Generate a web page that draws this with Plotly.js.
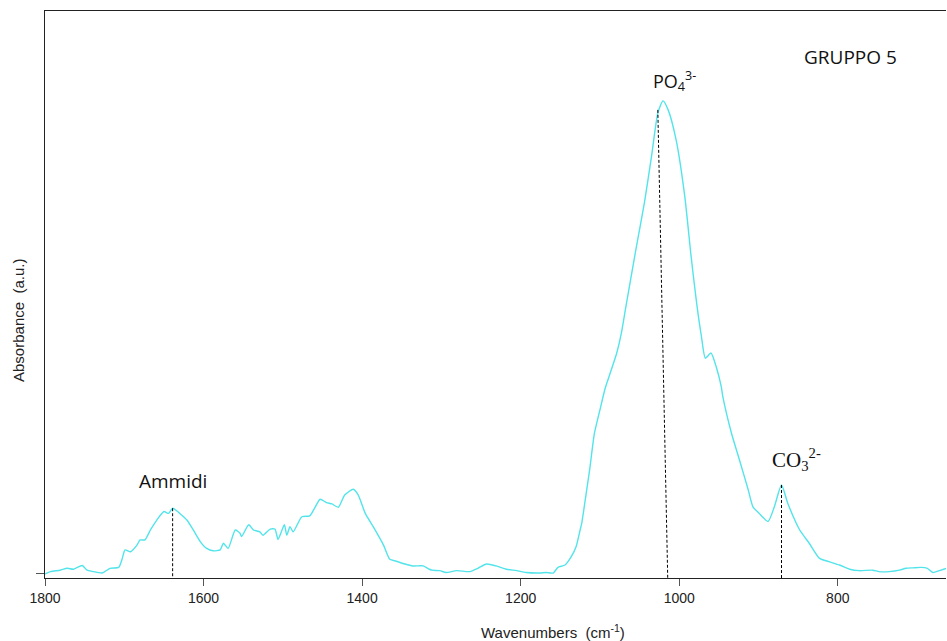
<!DOCTYPE html>
<html>
<head>
<meta charset="utf-8">
<script src="https://cdn.plot.ly/plotly-3.0.1.min.js"></script>
<style>html,body{margin:0;padding:0;background:#fff}#chart{width:947px;height:641px}</style>
</head>
<body>
<div id="chart"></div>
<script>
// FTIR spectrum
const wavenumbers = [1800,1793,1781,1772,1764,1753,1747,1739,1728,1718,1707,1703,1699,1692,1684,1680,1674,1667,1659,1650,1644,1639,1630,1621,1613,1604,1596,1588,1579,1575,1569,1560,1554,1552,1543,1537,1529,1525,1516,1510,1506,1501,1498,1495,1491,1487,1476,1466,1459,1453,1445,1438,1430,1422,1411,1405,1396,1386,1373,1365,1357,1346,1336,1323,1315,1312,1302,1294,1281,1264,1254,1243,1231,1218,1205,1193,1176,1168,1159,1153,1144,1136,1130,1125,1123,1118,1113,1107,1100,1094,1092,1079,1073,1067,1054,1044,1035,1027,1020.5,1014,1004,993,985,978,972,967,960,953,947,945,934,924,913,907,899,888,880,871,863,848,836,823,811,798,785,773,756,748,735,722,714,705,695,687,680,672,663];
const absorbance = [0.000,0.005,0.008,0.012,0.010,0.018,0.008,0.005,0.002,0.012,0.014,0.030,0.051,0.047,0.061,0.072,0.072,0.093,0.114,0.132,0.128,0.139,0.128,0.114,0.093,0.068,0.054,0.049,0.051,0.065,0.054,0.093,0.086,0.079,0.104,0.093,0.089,0.082,0.095,0.095,0.073,0.093,0.104,0.082,0.100,0.089,0.121,0.123,0.142,0.158,0.151,0.148,0.141,0.167,0.179,0.167,0.128,0.100,0.061,0.031,0.027,0.021,0.017,0.017,0.010,0.008,0.007,0.003,0.007,0.005,0.012,0.021,0.017,0.010,0.007,0.003,0.002,0.003,0.002,0.014,0.019,0.037,0.058,0.093,0.107,0.163,0.220,0.297,0.347,0.389,0.400,0.466,0.509,0.568,0.692,0.784,0.882,0.974,1.000,0.981,0.918,0.798,0.671,0.572,0.502,0.456,0.467,0.436,0.396,0.375,0.297,0.241,0.178,0.142,0.128,0.111,0.142,0.188,0.149,0.093,0.065,0.033,0.026,0.019,0.010,0.007,0.008,0.005,0.005,0.008,0.012,0.013,0.014,0.012,0.003,0.007,0.012];

// Peak markers (dashed lines) and labels
const markerTopWn = [1639, 1027, 871];
const markerTopAbs = [0.139, 0.981, 0.188];
const markerBottomWn = [1639, 1014.5, 871];
const labelTexts = ["Ammidi", "PO<sub>4</sub><sup>3-</sup>", "CO<sub>3</sub><sup>2-</sup>", "GRUPPO 5"];
const labelWn = [1639, 1036, 886, 784];
const labelAbs = [0.196, 1.043, 0.242, 1.093];
const xTickVals = [1800, 1600, 1400, 1200, 1000, 800];

const yMin = -0.0085, yMax = 1.19;

const shapes = markerTopWn.map((w, i) => ({
  type: 'line', xref: 'x', yref: 'y',
  x0: w, y0: markerTopAbs[i], x1: markerBottomWn[i], y1: yMin,
  line: {color: '#000', width: 1, dash: '3px,2px'}
}));

const sans = 'Open Sans, Noto Sans, sans-serif';
const labelFonts = [
  {family: sans, size: 19, color: '#111'},
  {family: sans, size: 18, color: '#111'},
  {family: 'Liberation Serif, Times New Roman, serif', size: 21, color: '#111'},
  {family: sans, size: 19, color: '#111'}
];
const labelAnchors = ['center', 'left', 'left', 'center'];

const annotations = labelTexts.map((t, i) => ({
  text: t, x: labelWn[i], y: labelAbs[i], xref: 'x', yref: 'y',
  showarrow: false, font: labelFonts[i], xanchor: labelAnchors[i], yanchor: 'middle'
}));

annotations.push({
  text: 'Wavenumbers  (cm<sup>-1</sup>)', xref: 'paper', yref: 'paper',
  x: 0.5635, y: -0.094, showarrow: false, xanchor: 'center', yanchor: 'middle',
  font: {family: 'Liberation Sans, Arial, sans-serif', size: 15, color: '#222'}
});
annotations.push({
  text: 'Absorbance  (a.u.)', xref: 'paper', yref: 'paper',
  x: -0.030, y: 0.455, showarrow: false, textangle: -90, xanchor: 'center', yanchor: 'middle',
  font: {family: 'Liberation Sans, Arial, sans-serif', size: 15, color: '#222'}
});

const trace = {
  x: wavenumbers, y: absorbance, type: 'scatter', mode: 'lines',
  line: {color: '#52e4ea', width: 1.4, shape: 'spline', smoothing: 0.6},
  hoverinfo: 'skip'
};

const layout = {
  width: 947, height: 641,
  margin: {l: 45, r: 1, t: 11, b: 63},
  paper_bgcolor: '#fff', plot_bgcolor: '#fff',
  showlegend: false,
  xaxis: {
    range: [1800, 663.5], autorange: false,
    tickvals: xTickVals, ticktext: xTickVals.map(String),
    ticks: 'outside', ticklen: 7, tickcolor: '#555', tickwidth: 1,
    showline: true, linecolor: '#222', linewidth: 1, mirror: true,
    showgrid: false, zeroline: false,
    tickfont: {family: 'Liberation Sans, Arial, sans-serif', size: 14, color: '#222'}
  },
  yaxis: {
    range: [yMin, yMax], autorange: false,
    tickvals: [0], showticklabels: false,
    ticks: 'outside', ticklen: 8, tickcolor: '#555', tickwidth: 1,
    showline: true, linecolor: '#222', linewidth: 1,
    showgrid: false, zeroline: false
  },
  shapes: shapes,
  annotations: annotations
};

Plotly.newPlot('chart', [trace], layout, {staticPlot: true, displayModeBar: false});
</script>
</body>
</html>
